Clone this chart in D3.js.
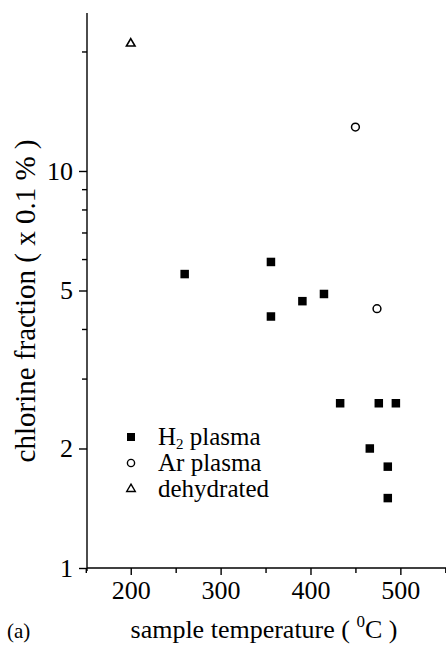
<!DOCTYPE html>
<html><head><meta charset="utf-8">
<script src="https://cdn.jsdelivr.net/npm/d3@7"></script>
<style>body{margin:0;background:#fff} text{font-family:"Liberation Serif","Times New Roman",serif;fill:#000}</style>
</head><body><svg id="c" width="446" height="654"></svg>
<script>
const h2Temps = [260,356,356,391,415,433,476,495,466,486,486];
const h2Values = [5.5,5.9,4.3,4.7,4.9,2.6,2.6,2.6,2.0,1.8,1.5];
const arTemps = [450,474];
const arValues = [12.9,4.5];
const dehydTemps = [200];
const dehydValues = [21];
const xTicks = [150,200,250,300,350,400,450,500,550];
const xTickLabels = [200,300,400,500];
const yTicks = [1,2,3,4,5,6,7,8,9,10,20];
const yTickLabels = [1,2,5,10];
const seriesNames = ["H2 plasma","Ar plasma","dehydrated"];

const svg = d3.select("#c");
const x = d3.scaleLinear().domain([150,550]).range([85.8,445.3]);
const y = d3.scaleLog().domain([1,25]).range([568,13]);
const FS = 26;

// y axis
const ya = svg.append("g").attr("transform","translate(87,0)")
  .call(d3.axisLeft(y).tickValues(yTicks).tickSizeOuter(0).tickSize(8).tickPadding(6)
    .tickFormat(d => yTickLabels.includes(d) ? d : ""));
ya.selectAll(".tick line").attr("x2", d => yTickLabels.includes(d) ? -8 : -5);
ya.select(".domain").attr("d","M0,13V571");
// x axis
const xa = svg.append("g").attr("transform","translate(0,568)")
  .call(d3.axisBottom(x).tickValues(xTicks).tickSizeOuter(0).tickSize(7).tickPadding(6)
    .tickFormat(d => xTickLabels.includes(d) ? d : ""));
xa.selectAll(".tick line").attr("y2", d => xTickLabels.includes(d) ? 7 : 5);
xa.select(".domain").attr("d","M87,0H446");
svg.selectAll(".domain, .tick line").attr("stroke","#000").attr("stroke-width",1.4);
svg.selectAll(".tick text").attr("font-size",FS).attr("font-family","Liberation Serif").attr("fill","#000");

// marks
const sq = 8.5;
svg.append("g").selectAll("rect").data(h2Temps.map((t,i)=>[t,h2Values[i]])).join("rect")
  .attr("x", d => x(d[0]) - sq/2).attr("y", d => y(d[1]) - sq/2)
  .attr("width", sq).attr("height", sq).attr("fill","#000");
svg.append("g").selectAll("circle").data(arTemps.map((t,i)=>[t,arValues[i]])).join("circle")
  .attr("cx", d => x(d[0])).attr("cy", d => y(d[1])).attr("r",3.9)
  .attr("fill","#fff").attr("stroke","#000").attr("stroke-width",1.5);
const tri = d3.symbol().type(d3.symbolTriangle).size(32);
svg.append("g").selectAll("path").data(dehydTemps.map((t,i)=>[t,dehydValues[i]])).join("path")
  .attr("transform", d => `translate(${x(d[0])},${y(d[1])+0.5})`).attr("d", tri)
  .attr("fill","#fff").attr("stroke","#000").attr("stroke-width",1.6);

// legend
const lg = svg.append("g");
const ly = [437, 463, 489];
const lx = 131;
lg.append("rect").attr("x",lx-4).attr("y",ly[0]-4).attr("width",8).attr("height",8).attr("fill","#000");
lg.append("circle").attr("cx",lx).attr("cy",ly[1]).attr("r",3.6).attr("fill","#fff").attr("stroke","#000").attr("stroke-width",1.4);
lg.append("path").attr("transform",`translate(${lx},${ly[2]})`).attr("d",tri).attr("fill","#fff").attr("stroke","#000").attr("stroke-width",1.4);
const t0 = lg.append("text").attr("x",158).attr("y",ly[0]+8).attr("font-size",25);
t0.append("tspan").text("H");
t0.append("tspan").attr("font-size",15).attr("dy",4).text("2");
t0.append("tspan").attr("dy",-4).text(" plasma");
lg.append("text").attr("x",158).attr("y",ly[1]+8).attr("font-size",25).text(seriesNames[1]);
lg.append("text").attr("x",158).attr("y",ly[2]+8).attr("font-size",25).text(seriesNames[2]);

// axis titles
svg.append("text").attr("transform","translate(35,301) rotate(-90)").attr("text-anchor","middle")
  .attr("font-size",29).text("chlorine fraction ( x 0.1 % )");
const xt = svg.append("text").attr("x",264).attr("y",638).attr("text-anchor","middle").attr("font-size",FS);
xt.append("tspan").text("sample temperature ( ");
xt.append("tspan").attr("font-size",17).attr("dy",-11).text("0");
xt.append("tspan").attr("dy",11).text("C )");
svg.append("text").attr("x",7).attr("y",638).attr("font-size",21).text("(a)");
</script></body></html>
